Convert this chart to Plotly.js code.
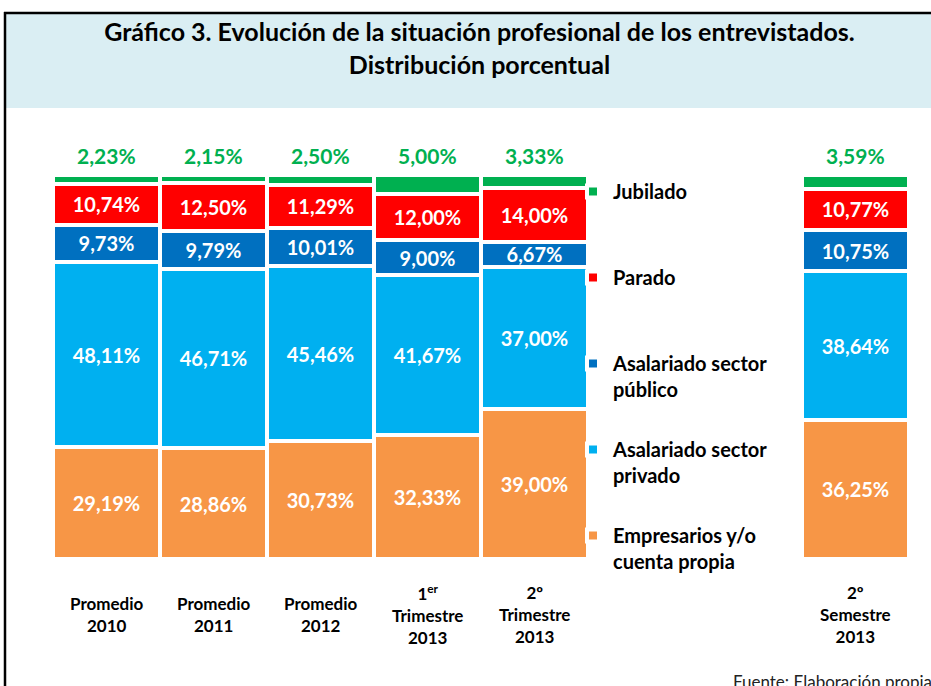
<!DOCTYPE html>
<html>
<head>
<meta charset="utf-8">
<script src="https://cdn.plot.ly/plotly-3.0.1.min.js"></script>
<style>html,body{margin:0;padding:0;background:#fff;}#chart{width:931px;height:686px;}</style>
</head>
<body>
<div id="chart"></div>
<script>
// ---- data ----
var categories = ["Promedio<br>2010", "Promedio<br>2011", "Promedio<br>2012", "1<sup>er</sup><br>Trimestre<br>2013", "2º<br>Trimestre<br>2013", "2º<br>Semestre<br>2013"];
var positions = [0, 1, 2, 3, 4, 7];
var empresarios = [29.19, 28.86, 30.73, 32.33, 39.00, 36.25];
var privado = [48.11, 46.71, 45.46, 41.67, 37.00, 38.64];
var publico = [9.73, 9.79, 10.01, 9.00, 6.67, 10.75];
var parado = [10.74, 12.50, 11.29, 12.00, 14.00, 10.77];
var jubilado = [2.23, 2.15, 2.50, 5.00, 3.33, 3.59];
var seriesNames = ["Empresarios y/o<br>cuenta propia", "Asalariado sector<br>privado", "Asalariado sector<br>público", "Parado<br> ", "Jubilado<br> "];
var seriesColors = ["#F79646", "#00B0F0", "#0070C0", "#FF0000", "#00B050"];

var FONT = "Lato, 'Open Sans', sans-serif";
var seriesData = [empresarios, privado, publico, parado, jubilado];

var traces = seriesData.map(function (vals, i) {
  var t = {
    type: "bar",
    x: positions,
    y: vals,
    width: 1,
    name: seriesNames[i],
    legendgroup: "g" + i,
    legendrank: 10 - i,
    marker: { color: seriesColors[i], line: { color: "#ffffff", width: 4 } },
    hoverinfo: "skip"
  };
  if (i < 4) {
    t.texttemplate = "%{y:.2f}%";
    t.textposition = "inside";
    t.insidetextanchor = "middle";
    t.constraintext = "none";
    t.textangle = 0;
    t.textfont = { family: FONT, size: 20, color: "#ffffff", weight: "bold" };
  } else {
    t.textposition = "none";
  }
  return t;
});

function fmt(v) { return v.toFixed(2).replace(".", ",") + "%"; }

var annotations = [];
positions.forEach(function (p, i) {
  annotations.push({
    x: p, y: 100, xref: "x", yref: "y", yanchor: "bottom", yshift: 5,
    text: fmt(jubilado[i]), showarrow: false,
    font: { family: FONT, size: 21, color: "#00B050", weight: "bold" }
  });
  annotations.push({
    x: p, y: 0, xref: "x", yref: "y", yanchor: "middle", yshift: -55,
    text: "<b>" + categories[i] + "</b>", showarrow: false,
    font: { family: FONT, size: 17, color: "#000000" }
  });
});
var L = 53, R = 909, T = 175, B = 559;
function px2x(px) { return (px - L) / (R - L); }
function py2y(py) { return (B - py) / (B - T); }
annotations.push({
  x: px2x(934), y: py2y(669), xref: "paper", yref: "paper", showarrow: false,
  text: "Fuente: Elaboración propia", font: { family: FONT, size: 17, color: "#222222" },
  xanchor: "right", yanchor: "top"
});

var shapes = [
  { type: "rect", xref: "paper", yref: "paper", x0: px2x(6), x1: px2x(960), y0: py2y(108), y1: py2y(13), fillcolor: "#DAEEF3", line: { width: 0 }, layer: "below" },
  { type: "line", xref: "paper", yref: "paper", x0: px2x(5), x1: px2x(5), y0: py2y(12), y1: py2y(700), line: { color: "#000", width: 2.5 } },
  { type: "line", xref: "paper", yref: "paper", x0: px2x(4), x1: px2x(960), y0: py2y(13), y1: py2y(13), line: { color: "#000", width: 2.5 } }
];

var layout = {
  width: 931, height: 686,
  margin: { l: L, r: 931 - R, t: T, b: 686 - B, pad: 0 },
  paper_bgcolor: "#ffffff", plot_bgcolor: "#ffffff",
  barmode: "stack", bargap: 0,
  separators: ",.",
  title: {
    text: "<b>Gráfico 3. Evolución de la situación profesional de los entrevistados.<br>Distribución porcentual</b>",
    font: { family: FONT, size: 25, color: "#000" },
    xref: "container", x: 0.515, xanchor: "center",
    yref: "container", y: 1 - 41 / 686, yanchor: "middle"
  },
  xaxis: { range: [-0.5, 7.5], showticklabels: false, showgrid: false, zeroline: false, showline: false, ticks: "", fixedrange: true },
  yaxis: { range: [0, 100], showticklabels: false, showgrid: false, zeroline: false, showline: false, ticks: "", fixedrange: true },
  showlegend: true,
  legend: {
    x: px2x(573), y: py2y(172), xanchor: "left", yanchor: "top",
    traceorder: "grouped", tracegroupgap: 31, valign: "top", maxheight: 650,
    font: { family: FONT, size: 20, color: "#000", weight: "bold" },
    bgcolor: "rgba(0,0,0,0)"
  },
  annotations: annotations,
  shapes: shapes
};

Plotly.newPlot("chart", traces, layout, { displayModeBar: false, staticPlot: true });
</script>
</body>
</html>
